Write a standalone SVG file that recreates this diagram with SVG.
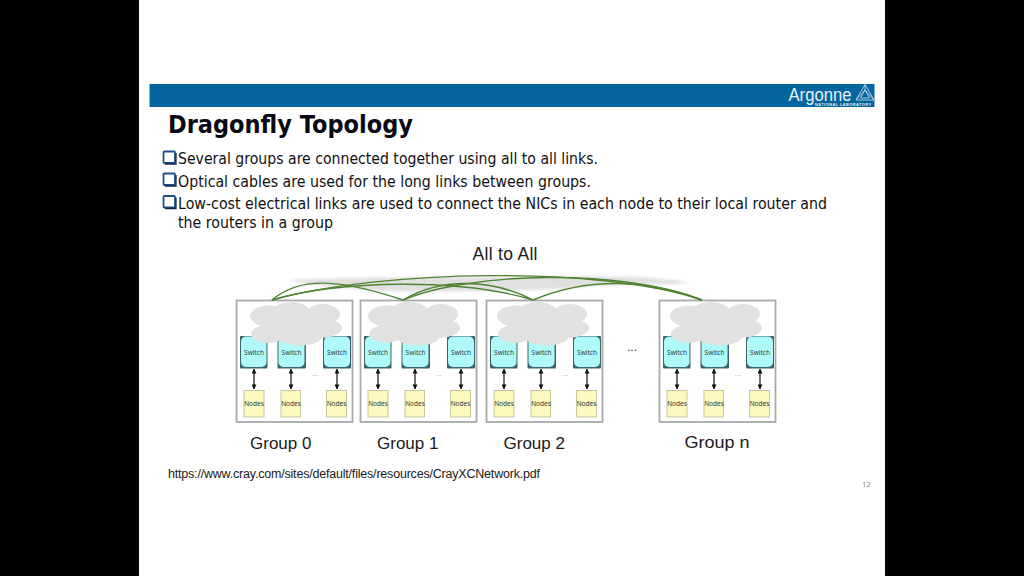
<svg xmlns="http://www.w3.org/2000/svg" width="1024" height="576" viewBox="0 0 1024 576">
<style>
.b{font-family:"DejaVu Sans",sans-serif;font-size:15.500px;fill:#111}
.a{font-family:"Liberation Sans",Arial,sans-serif;fill:#1a1a1a}
.l{font-size:17px}
.sw{font-family:"Noto Sans",sans-serif;font-size:6.500px;fill:#2a4040;text-anchor:middle}
.box{fill:#fff;stroke:#a9a9a9;stroke-width:1.800}
.sd{fill:#3f6468}
.s{fill:#aef9f9}
.n{fill:#fdf8bd;stroke:#c9c6a0;stroke-width:1}
.c{fill:#e1e1e1}
.w{fill:none;stroke:#111;stroke-width:1.200}
.g{fill:none;stroke:#4f8432;stroke-width:1.400}
.cb{fill:none;stroke:#1f4e8c;stroke-width:1.800}
.cs{fill:none;stroke:#10294f;stroke-width:1.300}
</style>
<defs>
<marker id="ah" viewBox="0 0 6 6" refX="5.500" refY="3" markerWidth="5" markerHeight="5" orient="auto-start-reverse" markerUnits="userSpaceOnUse"><path d="M0 0L6 3L0 6z" fill="#111"/></marker>
<filter id="bl" x="-10%" y="-50%" width="120%" height="200%"><feGaussianBlur stdDeviation="1.500"/></filter>
<g id="cloud" class="c">
<ellipse cx="269" cy="316" rx="19" ry="10.500"/><ellipse cx="291" cy="312" rx="19" ry="10"/><ellipse cx="323" cy="314" rx="17" ry="10"/><ellipse cx="320" cy="328" rx="22" ry="10"/><ellipse cx="300" cy="336" rx="22" ry="9.500"/><ellipse cx="268" cy="334" rx="17" ry="9"/><ellipse cx="295" cy="323" rx="36" ry="15"/>
</g>
<g id="sw">
<rect class="sd" x="240" y="336" width="27.500" height="32.500" rx="1"/><rect class="s" x="241" y="336.500" width="25.500" height="30.500" rx="5"/>
<rect class="sd" x="277.500" y="336" width="28.500" height="32.500" rx="1"/><rect class="s" x="278.500" y="336.500" width="26" height="30.500" rx="5"/>
<rect class="sd" x="323" y="336" width="28" height="32.500" rx="1"/><rect class="s" x="324" y="336.500" width="26" height="30.500" rx="5"/>
</g>
<g id="low">
<text class="sw" x="254" y="354.500">Switch</text><text class="sw" x="291.500" y="354.500">Switch</text><text class="sw" x="337" y="354.500">Switch</text>
<path class="w" d="M254 369V389" marker-start="url(#ah)" marker-end="url(#ah)"/>
<path class="w" d="M291 369V389" marker-start="url(#ah)" marker-end="url(#ah)"/>
<path class="w" d="M337 369V389" marker-start="url(#ah)" marker-end="url(#ah)"/>
<rect class="n" x="244" y="390.500" width="20" height="26.500"/><rect class="n" x="281" y="390.500" width="19.500" height="26.500"/><rect class="n" x="326.500" y="390.500" width="20" height="26.500"/>
<text class="sw" x="254" y="405.500">Nodes</text><text class="sw" x="291" y="405.500">Nodes</text><text class="sw" x="336.500" y="405.500">Nodes</text>
<text x="315" y="376" style="font-family:'Liberation Sans',sans-serif;font-size:8px;fill:#aaa;text-anchor:middle">...</text>
</g>
<g id="frame"><rect class="box" x="236.500" y="300.500" width="116" height="121.500"/></g>
<g id="chk"><rect class="cb" x="163.500" y="151.500" width="11.500" height="11.500" rx="1"/><path class="cs" d="M176 153V164H165"/></g>
</defs>
<rect width="1024" height="576" fill="#000"/>
<rect x="139" width="746" height="576" fill="#fff"/>
<g id="header">
<rect x="149.500" y="84" width="725" height="23" fill="#04659f"/>
<text x="788.500" y="100.500" style="font-family:'Liberation Sans',sans-serif;font-size:18px;fill:#e8f1f6" textLength="63" lengthAdjust="spacingAndGlyphs">Argonne</text>
<text x="815" y="106" style="font-family:'Liberation Sans',sans-serif;font-size:3.800px;font-weight:bold;fill:#e8f1f6" textLength="56">NATIONAL LABORATORY</text>
<path d="M865 84.500L874 100H856ZM865 90L869.500 98H860.500ZM856 100L865 90M874 100L865 90M865 84.500V90" fill="none" stroke="#cfe0ea" stroke-width=".8"/>
</g>
<text id="title" x="168" y="133" style="font-family:'DejaVu Sans',sans-serif;font-weight:bold;font-size:24px;fill:#0a0a14" textLength="245" lengthAdjust="spacingAndGlyphs">Dragonfly Topology</text>
<g id="bullets">
<use href="#chk"/><use href="#chk" y="22"/><use href="#chk" y="44.500"/>
<text class="b" x="178" y="164" textLength="420" lengthAdjust="spacingAndGlyphs">Several groups are connected together using all to all links.</text>
<text class="b" x="178" y="186.500" textLength="413" lengthAdjust="spacingAndGlyphs">Optical cables are used for the long links between groups.</text>
<text class="b" x="178" y="209" textLength="649" lengthAdjust="spacingAndGlyphs">Low-cost electrical links are used to connect the NICs in each node to their local router and</text>
<text class="b" x="178" y="228" textLength="155" lengthAdjust="spacingAndGlyphs">the routers in a group</text>
</g>
<text id="alltoall" class="a" x="472.500" y="260" style="font-size:17.500px" textLength="65">All to All</text>
<g id="band" filter="url(#bl)">
<path fill="#e0e0e0" d="M287 280C340 277 470 277 600 276.500C640 276.500 675 279 691 283C650 285 620 285 590 286C560 291 440 292.500 380 291C350 289 310 285 287 280Z"/>
</g>
<g id="group0"><use href="#frame"/><use href="#sw"/><use href="#cloud"/><use href="#low"/></g>
<g id="group1"><use href="#frame" x="124"/><use href="#sw" x="124"/><use href="#cloud" x="118"/><use href="#low" x="124"/></g>
<g id="group2"><use href="#frame" x="250"/><use href="#sw" x="250"/><use href="#cloud" x="247"/><use href="#low" x="250"/></g>
<g id="groupn"><use href="#frame" x="423"/><use href="#sw" x="423"/><use href="#cloud" x="420"/><use href="#low" x="423"/></g>
<g id="links">
<path class="g" d="M272 300C300 276 340 279 403 300"/>
<path class="g" d="M272 300C340 280 460 278 533 300"/>
<path class="g" d="M272 300C380 270 600 265 702 300"/>
<path class="g" d="M403 300C440 278 490 278 533 300"/>
<path class="g" d="M403 300C470 272 620 268 702 300"/>
<path class="g" d="M533 300C590 276 650 280 702 300"/>
</g>
<text id="gap" x="632" y="351" style="font-family:'Liberation Sans',sans-serif;font-size:12px;fill:#333;text-anchor:middle">...</text>
<g id="labels">
<text class="a l" x="250" y="448.500">Group 0</text>
<text class="a l" x="377" y="448.500">Group 1</text>
<text class="a l" x="503.500" y="448.500">Group 2</text>
<text class="a l" x="684.500" y="447.500" textLength="65" lengthAdjust="spacingAndGlyphs">Group n</text>
</g>
<text id="url" class="a" x="168" y="478" style="font-size:12.500px" textLength="372">https://www.cray.com/sites/default/files/resources/CrayXCNetwork.pdf</text>
<text id="page" x="862" y="487" style="font-family:'Noto Sans',sans-serif;font-size:7.500px;fill:#8a8a8a">12</text>
</svg>
